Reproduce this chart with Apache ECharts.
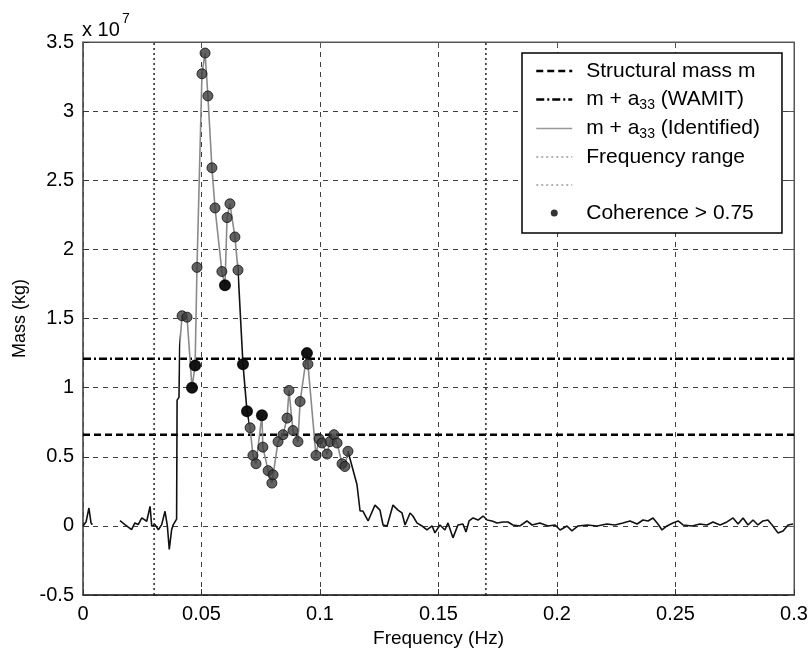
<!DOCTYPE html>
<html><head><meta charset="utf-8">
<script src="https://cdn.jsdelivr.net/npm/echarts@6/dist/echarts.min.js"></script>
<style>html,body{margin:0;padding:0;background:#fff}#c{width:811px;height:653px}</style>
</head><body><div id="c"></div>
<script>
// Identified m + a33 curve (frequency in Hz, mass in 1e7 kg); null = gap
const idFreq = [0, 0.0013, 0.0025, 0.0034, 0.0040, 0.0100,
  0.0156, 0.0177, 0.0205, 0.0219, 0.0233, 0.0248, 0.0269, 0.0283, 0.0290, 0.0304,
  0.0318, 0.0332, 0.0346, 0.0356, 0.0364, 0.0374, 0.0381, 0.0388, 0.0395, 0.0397,
  0.0405, 0.0408,
  0.0418, 0.0439, 0.0460, 0.0473, 0.0481, 0.0502, 0.0515, 0.0527, 0.0544, 0.0557,
  0.0586, 0.0599, 0.0608, 0.0620, 0.0641, 0.0654, 0.0675, 0.0692, 0.0705, 0.0717,
  0.0730, 0.0755, 0.0759, 0.0781, 0.0797, 0.0802, 0.0823, 0.0844, 0.0861, 0.0869,
  0.0886, 0.0907, 0.0916, 0.0945, 0.0949, 0.0983, 0.0996, 0.1008, 0.1030, 0.1042,
  0.1059, 0.1072, 0.1093, 0.1105, 0.1118,
  0.1156, 0.1169, 0.1181, 0.1203, 0.1232, 0.1253, 0.1266, 0.1283, 0.1308, 0.1329,
  0.1346, 0.1359, 0.1380, 0.1392, 0.1409, 0.1430, 0.1451, 0.1473, 0.1485, 0.1506,
  0.1527, 0.1540, 0.1561, 0.1582, 0.1603, 0.1616, 0.1629, 0.1646, 0.1667, 0.1688,
  0.1705, 0.1726, 0.1747, 0.1772, 0.1793, 0.1814, 0.1844, 0.1873, 0.1895, 0.1928,
  0.1962, 0.1992, 0.2013, 0.2042, 0.2063, 0.2089, 0.2127, 0.2169, 0.2211, 0.2245,
  0.2278, 0.2308, 0.2338, 0.2363, 0.2384, 0.2405, 0.2426, 0.2443, 0.2464, 0.2489,
  0.2511, 0.2532, 0.2570, 0.2603, 0.2633, 0.2658, 0.2688, 0.2717, 0.2743, 0.2764,
  0.2785, 0.2806, 0.2827, 0.2848, 0.2869, 0.2890, 0.2911, 0.2932, 0.2954, 0.2975,
  0.2996];
const idMass = [0.0, 0.03, 0.13, 0.02, 0.01, null,
  0.038, 0.01, -0.027, 0.022, 0.01, 0.058, 0.034, 0.142, -0.002, 0.01,
  -0.027, 0.01, 0.106, 0.0, -0.17, -0.027, 0.01, 0.02, 0.05, 0.91,
  0.93, 1.30,
  1.52, 1.51, 1.00, 1.16, 1.87, 3.27, 3.42, 3.11, 2.59, 2.30,
  1.84, 1.74, 2.23, 2.33, 2.09, 1.85, 1.17, 0.83, 0.71, 0.51,
  0.45, 0.80, 0.57, 0.40, 0.31, 0.37, 0.61, 0.66, 0.78, 0.98,
  0.69, 0.61, 0.90, 1.25, 1.17, 0.51, 0.63, 0.60, 0.52, 0.61,
  0.66, 0.60, 0.45, 0.43, 0.54,
  0.30, 0.108, 0.108, 0.036, 0.151, 0.115, 0.007, 0.0, 0.151, 0.115,
  0.094, 0.007, 0.094, 0.072, 0.022, 0.0, -0.029, 0.0, -0.05, 0.007,
  -0.029, 0.022, -0.086, 0.007, 0.014, -0.043, 0.036, 0.058, 0.043, 0.072,
  0.043, 0.036, 0.022, 0.029, 0.029, 0.007, 0.0, 0.036, 0.007, 0.022,
  0.0, 0.007, -0.029, 0.0, -0.036, 0.0, 0.007, 0.0, 0.014, 0.007,
  0.022, 0.036, 0.014, 0.043, 0.036, 0.058, 0.014, -0.029, 0.0, 0.022,
  0.036, 0.007, 0.0, 0.014, 0.007, 0.029, 0.007, 0.029, 0.058, 0.014,
  0.058, 0.007, 0.043, 0.007, 0.036, 0.043, 0.0, -0.05, -0.036, 0.007,
  0.014];

// Points with coherence > 0.75
const cohFreq = [0.0418, 0.0439, 0.0460, 0.0473, 0.0481, 0.0502, 0.0515, 0.0527, 0.0544, 0.0557,
  0.0586, 0.0599, 0.0608, 0.0620, 0.0641, 0.0654, 0.0675, 0.0692, 0.0705, 0.0717,
  0.0730, 0.0755, 0.0759, 0.0781, 0.0797, 0.0802, 0.0823, 0.0844, 0.0861, 0.0869,
  0.0886, 0.0907, 0.0916, 0.0945, 0.0949, 0.0983, 0.0996, 0.1008, 0.1030, 0.1042,
  0.1059, 0.1072, 0.1093, 0.1105, 0.1118];
const cohMass = [1.52, 1.51, 1.00, 1.16, 1.87, 3.27, 3.42, 3.11, 2.59, 2.30,
  1.84, 1.74, 2.23, 2.33, 2.09, 1.85, 1.17, 0.83, 0.71, 0.51,
  0.45, 0.80, 0.57, 0.40, 0.31, 0.37, 0.61, 0.66, 0.78, 0.98,
  0.69, 0.61, 0.90, 1.25, 1.17, 0.51, 0.63, 0.60, 0.52, 0.61,
  0.66, 0.60, 0.45, 0.43, 0.54];
// coherent points that print solid black in the figure
const darkFreq = [0.0460, 0.0473, 0.0599, 0.0675, 0.0692, 0.0755, 0.0945];
const darkMass = [1.00, 1.16, 1.74, 1.17, 0.83, 0.80, 1.25];

const structuralMass = 0.66;   // x 1e7 kg
const wamitMass = 1.21;        // x 1e7 kg
const freqRange = [0.03, 0.17];
const xTickLabels = ['0', '0.05', '0.1', '0.15', '0.2', '0.25', '0.3'];
const yTickLabels = ['-0.5', '0', '0.5', '1', '1.5', '2', '2.5', '3', '3.5'];

const xMin = 0, xMax = 0.3, xStep = 0.05;
const yMin = -0.5, yMax = 3.5, yStep = 0.5;

const FONT = 'Liberation Sans, Arial, sans-serif';
const chart = echarts.init(document.getElementById('c'));

const lineData = idFreq.map((f, i) => [f, idMass[i] === null ? '-' : idMass[i]]);
const cohData = cohFreq.map((f, i) => [f, cohMass[i]]);
const darkData = darkFreq.map((f, i) => [f, darkMass[i]]);
const horiz = v => [[xMin, v], [xMax, v]];
const vert = v => [[v, yMin], [v, yMax]];

const legendRich = { sub: { fontSize: 14, lineHeight: 13, padding: [11, 0, 0, 0], fontFamily: FONT, color: '#000' } };
const noDot = { opacity: 0 };

chart.setOption({
  animation: false,
  backgroundColor: '#fff',
  grid: { left: 83, right: 17, top: 42, bottom: 56, show: true, borderColor: '#555', borderWidth: 1 },
  xAxis: [{
    type: 'value', min: xMin, max: xMax, interval: xStep,
    name: 'Frequency (Hz)', nameLocation: 'middle', nameGap: 33,
    nameTextStyle: { fontSize: 19, color: '#000', fontFamily: FONT },
    axisLine: { show: true, onZero: false, lineStyle: { color: '#222', width: 1.5 } },
    axisTick: { show: true, inside: true, length: 6, lineStyle: { color: '#333' } },
    axisLabel: { fontSize: 20, color: '#000', fontFamily: FONT, margin: 9,
      formatter: v => xTickLabels[Math.round((v - xMin) / xStep)] },
    splitLine: { show: true, lineStyle: { type: [5, 5], color: '#000', width: 1, opacity: 0.75 } }
  }, {
    type: 'value', min: xMin, max: xMax, interval: xStep, position: 'top',
    axisLine: { show: true, onZero: false, lineStyle: { color: '#555' } },
    axisTick: { show: true, inside: true, length: 6, lineStyle: { color: '#555' } },
    axisLabel: { show: false }, splitLine: { show: false }
  }],
  yAxis: [{
    type: 'value', min: yMin, max: yMax, interval: yStep,
    name: 'Mass (kg)', nameLocation: 'middle', nameGap: 52,
    nameTextStyle: { fontSize: 18, color: '#000', fontFamily: FONT },
    axisLine: { show: true, onZero: false, lineStyle: { color: '#555', width: 1.5 } },
    axisTick: { show: true, inside: true, length: 6, lineStyle: { color: '#333' } },
    axisLabel: { fontSize: 20, color: '#000', fontFamily: FONT, margin: 9,
      formatter: v => yTickLabels[Math.round((v - yMin) / yStep)] },
    splitLine: { show: true, lineStyle: { type: [5, 5], color: '#000', width: 1, opacity: 0.75 } }
  }, {
    type: 'value', min: yMin, max: yMax, interval: yStep, position: 'right',
    axisLine: { show: true, onZero: false, lineStyle: { color: '#555' } },
    axisTick: { show: true, inside: true, length: 6, lineStyle: { color: '#555' } },
    axisLabel: { show: false }, splitLine: { show: false }
  }],
  legend: {
    orient: 'vertical', left: 522, top: 53,
    backgroundColor: '#fff', borderColor: '#000', borderWidth: 1.5,
    padding: [6, 22, 8, 13], itemGap: 4, itemWidth: 36, itemHeight: 7,
    textStyle: { fontSize: 21, lineHeight: 24, color: '#000', fontFamily: FONT, padding: [0, 0, 0, 9], rich: legendRich },
    formatter: n => n.replace('a33', 'a{sub|33}'),
    data: [
      { name: 'Structural mass m', itemStyle: noDot, lineStyle: { color: '#000', width: 2.5, type: [7, 4] } },
      { name: 'm + a33 (WAMIT)', itemStyle: noDot, lineStyle: { color: '#000', width: 2.5, type: [8, 3, 2, 3] } },
      { name: 'm + a33 (Identified)', itemStyle: noDot, lineStyle: { color: '#999', width: 1.5, type: 'solid' } },
      { name: 'Frequency range', itemStyle: noDot, lineStyle: { color: '#999', width: 1.5, type: [2, 3] } },
      { name: ' ', itemStyle: noDot, lineStyle: { color: '#999', width: 1.5, type: [2, 3] } },
      { name: 'Coherence > 0.75', icon: 'circle', itemStyle: { color: '#333', borderWidth: 0, opacity: 1 } }
    ]
  },
  visualMap: {
    type: 'piecewise', show: false, dimension: 0, seriesIndex: 2,
    pieces: [
      { lt: 0.0408, color: '#111' },
      { gte: 0.0408, lt: 0.0655, color: '#8a8a8a' },
      { gte: 0.0655, lt: 0.0700, color: '#111' },
      { gte: 0.0700, lt: 0.1118, color: '#8a8a8a' },
      { gte: 0.1118, color: '#111' }
    ]
  },
  series: [
    { name: 'Structural mass m', type: 'line', data: horiz(structuralMass), symbol: 'none',
      itemStyle: { color: '#000' }, lineStyle: { color: '#000', width: 2.5, type: [7, 4] }, z: 3 },
    { name: 'm + a33 (WAMIT)', type: 'line', data: horiz(wamitMass), symbol: 'none',
      itemStyle: { color: '#000' }, lineStyle: { color: '#000', width: 2.5, type: [8, 3, 2, 3] }, z: 3 },
    { name: 'm + a33 (Identified)', type: 'line', data: lineData, symbol: 'none', connectNulls: false,
      itemStyle: { color: '#999' }, lineStyle: { width: 1.6 }, z: 4 },
    { name: 'Frequency range', type: 'line', data: vert(freqRange[0]), symbol: 'none',
      itemStyle: { color: '#222' }, lineStyle: { color: '#222', width: 1.5, type: [2, 3] }, z: 3 },
    { name: ' ', type: 'line', data: vert(freqRange[1]), symbol: 'none',
      itemStyle: { color: '#222' }, lineStyle: { color: '#222', width: 1.5, type: [2, 3] }, z: 3 },
    { name: 'Coherence > 0.75', type: 'scatter', data: cohData, symbol: 'circle', symbolSize: 10,
      itemStyle: { color: '#3c3c3c', borderColor: '#111', borderWidth: 1 }, z: 5 },
    { name: 'coh-dark', type: 'scatter', data: darkData, symbol: 'circle', symbolSize: 12,
      itemStyle: { color: '#000' }, z: 6 }
  ],
  graphic: [
    { type: 'text', left: 82, top: 20, style: { text: 'x 10', font: '20px ' + FONT, fill: '#000' } },
    { type: 'text', left: 122, top: 12, style: { text: '7', font: '14px ' + FONT, fill: '#000' } }
  ]
});
</script></body></html>
